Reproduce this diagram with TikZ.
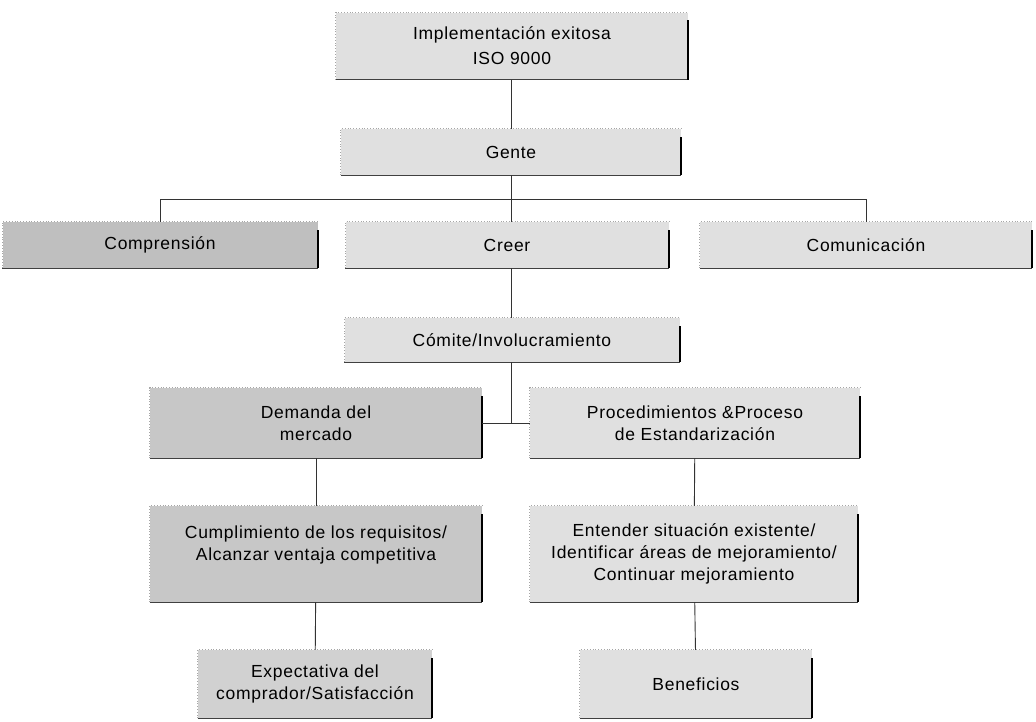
\documentclass[tikz,border=0pt]{standalone}
\usepackage{fontspec}
\setmainfont[LetterSpace=4]{Liberation Sans}
\usetikzlibrary{calc}
\tikzset{
 caja/.style={fill=gray!24,inner sep=0,align=center,font=\fontsize{17.5}{22}\selectfont},
 cajaosc/.style={caja,fill=gray!50},
 cajamed/.style={caja,fill=gray!44},
 cajaclara/.style={caja,fill=gray!36},
 liga/.style={line width=.9pt,draw=black!80},
 bordesup/.style={draw=gray!70,line width=.8pt,dotted},
 bordeinf/.style={draw=black!75,line width=1.3pt},
 bordeder/.style={draw=black,line width=2.2pt}
}
\begin{document}
\begin{tikzpicture}[x=1pt,y=-1pt]
\path[use as bounding box,fill=white] (0,0) rectangle (1036,721);
% nivel 1 y 2
\node[caja,minimum width=352pt,minimum height=67pt,font=\fontsize{17.5}{25}\selectfont] (impl) at (512,46) {Implementación exitosa\\ISO 9000};
\node[caja,minimum width=340pt,minimum height=46pt] (gente) at (511,152) {Gente};
% tres pilares
\node[cajaosc,minimum width=315pt,minimum height=46pt] (compr) at (160,245) {Comprensión};
\node[caja,minimum width=323pt,minimum height=46pt] (creer) at (507,245) {Creer};
\node[caja,minimum width=332pt,minimum height=46pt] (comun) at (866,245) {Comunicación};
\node[caja,minimum width=335pt,minimum height=44pt] (comite) at (512,340) {Cómite/Involucramiento};
% dos ramas
\node[cajamed,minimum width=332pt,minimum height=70pt] (demanda) at (316,423) {Demanda del\\mercado};
\node[caja,minimum width=330pt,minimum height=70pt] (proc) at (695,423) {Procedimientos \&Proceso\\de Estandarización};
\node[cajamed,minimum width=332pt,minimum height=96pt] (cumpl) at (316,554) {Cumplimiento de los requisitos/\\Alcanzar ventaja competitiva\\\mbox{}};
\node[caja,minimum width=328pt,minimum height=96pt] (entender) at (694,554) {Entender situación existente/\\Identificar áreas de mejoramiento/\\Continuar mejoramiento};
\node[cajaclara,minimum width=234pt,minimum height=68pt] (expect) at (315,684) {Expectativa del\\comprador/Satisfacción};
\node[caja,minimum width=232pt,minimum height=68pt] (benef) at (696,684) {Beneficios};
% bordes
\foreach \n in {impl,gente,compr,creer,comun,comite,demanda,proc,cumpl,entender,expect,benef}{
 \draw[bordesup] (\n.south west) |- (\n.north east);
 \draw[bordeinf] (\n.south west) -- (\n.south east);
 \draw[bordeder] (\n.south east) -- ($(\n.north east)+(0,8)$);
}
% lineas
\draw[liga] (impl.south -| gente.north) -- (gente.north);
\coordinate (rama) at ($(gente.south)+(0,24)$);
\draw[liga] (gente.south) -- (rama);
\draw[liga] (compr.north) |- (rama) -| (comun.north);
\draw[liga] (rama) -- (rama |- creer.north);
\draw[liga] (creer.south -| rama) -- (rama |- comite.north);
\draw[liga] (demanda.east) -- (proc.west);
\draw[liga] (comite.south -| rama) -- (rama |- demanda.east);
\draw[liga] (demanda) -- (cumpl);
\draw[liga] (proc) -- (entender);
\draw[liga] (cumpl) -- (expect);
\draw[liga] (entender) -- (benef);
\end{tikzpicture}
\end{document}
